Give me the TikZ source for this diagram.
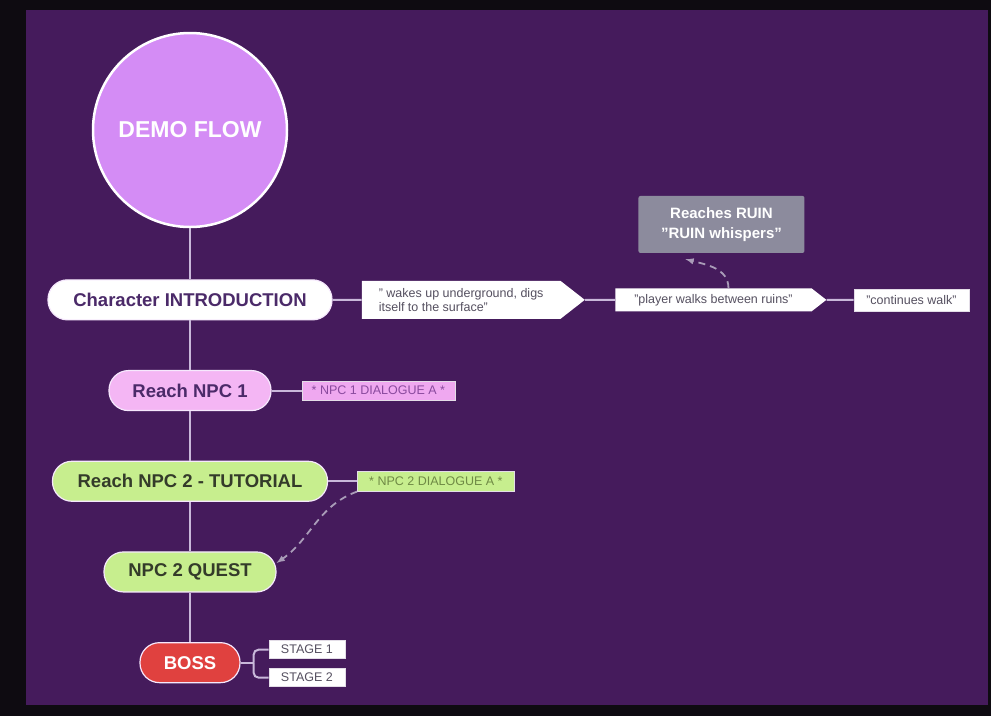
\documentclass[tikz,border=0pt]{standalone}
\usepackage{fontspec}
\setmainfont{Liberation Sans}
\usepackage{tikz}
\usetikzlibrary{arrows.meta,shapes,positioning}

\definecolor{nightbg}{HTML}{0E0B11}
\definecolor{panel}{HTML}{451B5C}
\definecolor{lilac}{HTML}{D48CF5}
\definecolor{linkcol}{HTML}{C9B8DA}
\definecolor{dashcol}{HTML}{A99CB8}
\definecolor{plum}{HTML}{4B2A69}
\definecolor{pinkpill}{HTML}{F4B6F4}
\definecolor{pinknote}{HTML}{EFA8F0}
\definecolor{pinktext}{HTML}{8A4A9E}
\definecolor{greenpill}{HTML}{C7EE8E}
\definecolor{greentext}{HTML}{343B2A}
\definecolor{greennote}{HTML}{6F8A45}
\definecolor{bossred}{HTML}{E0413F}
\definecolor{ruingray}{HTML}{8C8B9D}
\definecolor{notetext}{HTML}{555060}

\begin{document}
\begin{tikzpicture}[
  x = 1pt, y = -1pt,
  node distance = 49.5pt and 29pt,
  > = latex,
  start/.style = {circle, draw=white, line width=2.5pt, fill=lilac,
                  minimum size=194pt, text=white,
                  font=\bfseries\fontsize{23}{26}\selectfont},
  pill/.style  = {rectangle, rounded corners=19.5pt, draw=white!80!lilac,
                  line width=1.2pt, minimum height=40pt, inner sep=0pt,
                  font=\bfseries\fontsize{18.5}{20}\selectfont},
  note/.style  = {rectangle, draw=white!85!panel, line width=0.6pt,
                  inner sep=0pt, font=\fontsize{12.5}{14}\selectfont},
  arrownote/.style = {signal, signal to=east, signal pointer angle=76,
                  fill=white, text=notetext, inner sep=0pt,
                  font=\fontsize{12.5}{14}\selectfont},
  link/.style  = {draw=linkcol, line width=2pt},
  dashlink/.style = {draw=dashcol, line width=1.8pt, dash pattern=on 7pt off 5pt, ->}
]
\useasboundingbox (0,0) rectangle (991,716);
\fill[nightbg] (0,0) rectangle (991,716);
\fill[panel] (26,10) rectangle (988,705);

% main column
\node[start] (demo) at (190,130) {DEMO FLOW};
\node[pill, fill=white, text=plum, minimum width=284pt, below=51pt of demo] (intro) {Character INTRODUCTION};
\node[pill, fill=pinkpill, text=plum, minimum width=162pt, below=of intro] (npc1) {Reach NPC 1};
\node[pill, fill=greenpill, text=greentext, minimum width=275pt, below=of npc1] (npc2) {Reach NPC 2 - TUTORIAL};
\node[pill, fill=greenpill, text=greentext, minimum width=172pt, below=of npc2] (quest) {NPC 2 QUEST};
\node[pill, fill=bossred, text=white, minimum width=100pt, below=of quest] (boss) {BOSS};

% intro story beats
\node[arrownote, minimum width=223pt, minimum height=38pt, align=left, right=29pt of intro] (wake) {" wakes up underground, digs\\itself to the surface"};
\node[arrownote, minimum width=211pt, minimum height=23pt, right=30pt of wake] (walk) {"player walks between ruins"};
\node[note, fill=white, text=notetext, minimum width=115pt, minimum height=22pt, right=27pt of walk] (cont) {"continues walk"};
\node[rectangle, rounded corners=2pt, fill=ruingray, text=white, align=center,
      minimum width=166pt, minimum height=57pt, inner sep=0pt,
      font=\bfseries\fontsize{15}{20}\selectfont, above=35pt of walk, xshift=8pt] (ruin) {Reaches RUIN\\"RUIN whispers"};

% dialogues
\node[note, fill=pinknote, text=pinktext, minimum width=153pt, minimum height=19pt, right=30pt of npc1] (dlg1) {* NPC 1 DIALOGUE A *};
\node[note, fill=greenpill, text=greennote, minimum width=157pt, minimum height=20pt, right=29pt of npc2] (dlg2) {* NPC 2 DIALOGUE A *};

% boss stages
\node[note, fill=white, text=notetext, minimum width=76pt, minimum height=18pt, right=28pt of boss, yshift=13pt] (stage1) {STAGE 1};
\node[note, fill=white, text=notetext, minimum width=76pt, minimum height=18pt, right=28pt of boss, yshift=-15pt] (stage2) {STAGE 2};
\coordinate (fork) at ([xshift=13pt]boss.east);

% connectors
\draw[link] (demo) -- (intro);
\draw[link] (intro) -- (npc1);
\draw[link] (npc1) -- (npc2);
\draw[link] (npc2) -- (quest);
\draw[link] (quest) -- (boss);
\draw[link] (intro) -- (wake);
\draw[link] (wake) -- (walk);
\draw[link] (walk) -- (cont);
\draw[link] (npc1) -- (dlg1);
\draw[link] (npc2) -- (dlg2);
\draw[link] (boss) -- (fork);
\draw[link, rounded corners=5pt] (fork) |- (stage1);
\draw[link, rounded corners=5pt] (fork) |- (stage2);

% dashed hints
\draw[dashlink] ([xshift=15pt]walk.north) to[out=90, in=-15] ([xshift=-36pt, yshift=-6pt]ruin.south);
\draw[dashlink] (dlg2.south west) to[out=200, in=35] ([yshift=9pt]quest.east);
\end{tikzpicture}
\end{document}
